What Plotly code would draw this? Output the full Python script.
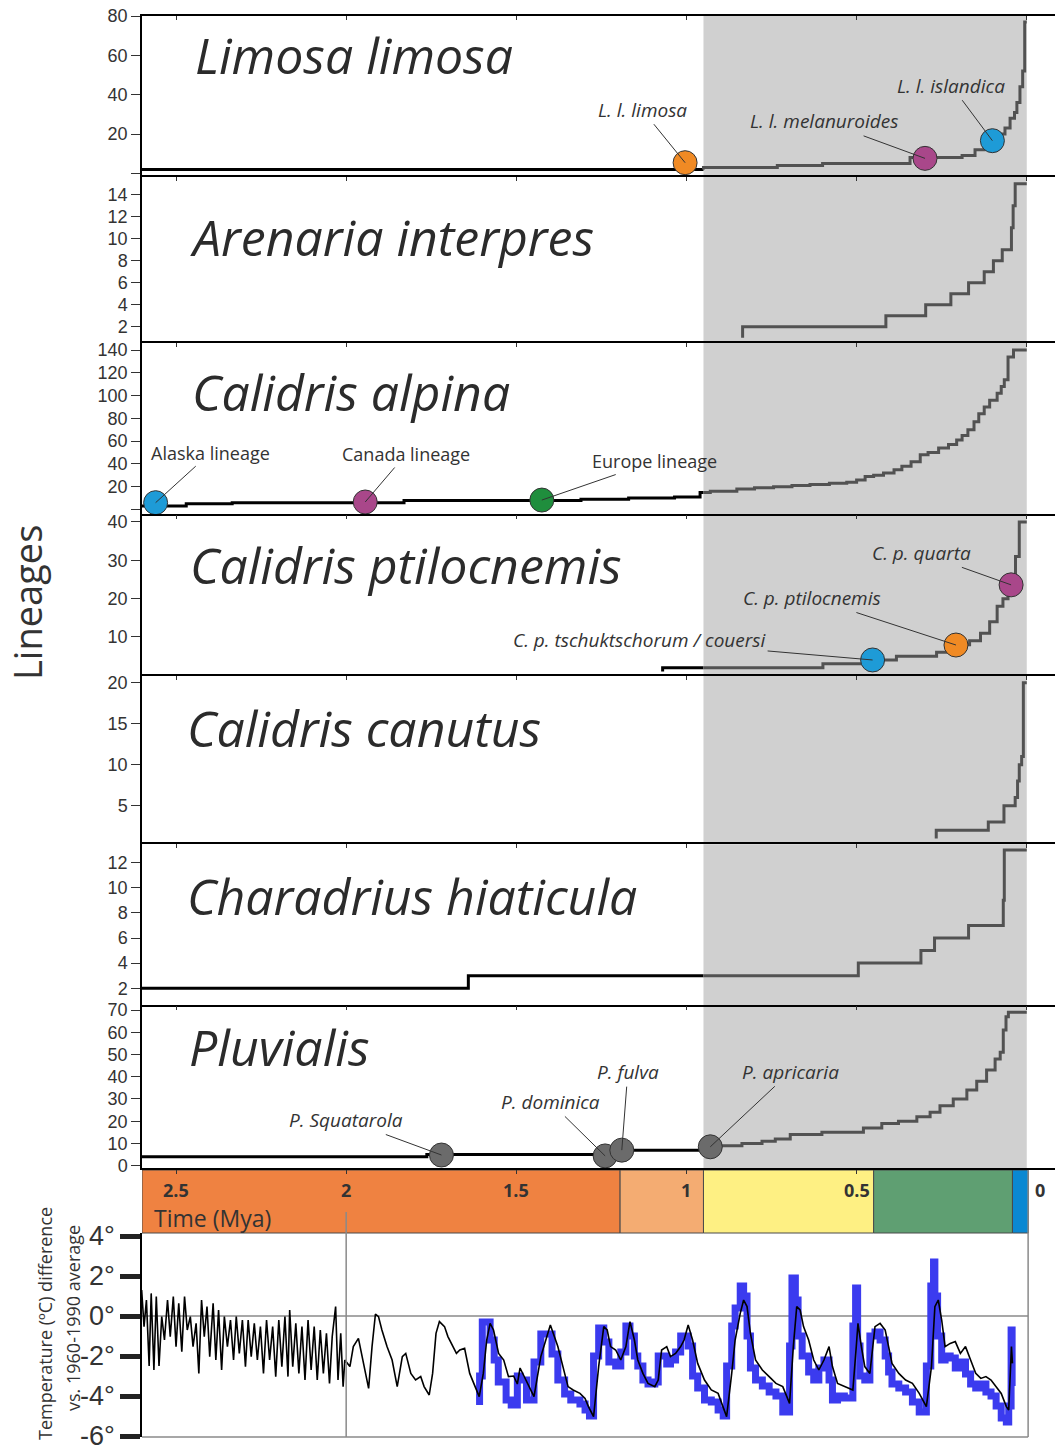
import plotly.graph_objects as go

W, H = 1055, 1445

# ---------------- lineage-through-time curves ----------------
# times (Mya before present) at which the lineage count changes, and the count from then on
limosa_t = [2.6, 0.95, 0.733, 0.60, 0.343, 0.19, 0.152, 0.125, 0.10, 0.08, 0.064, 0.049, 0.036, 0.029, 0.02, 0.012, 0.006, 0.0]
limosa_n = [2, 3, 4, 5, 8, 9, 12, 14, 17, 20, 23, 28, 31, 36, 44, 52, 77, 77]

arenaria_t = [0.835, 0.835, 0.414, 0.297, 0.223, 0.171, 0.125, 0.098, 0.072, 0.045, 0.040, 0.034, 0.0]
arenaria_n = [1, 2, 3, 4, 5, 6, 7, 8, 9, 11, 13, 15, 15]

alpina_t = [2.6, 2.47, 2.335, 1.83, 1.31, 1.17, 1.035, 0.96, 0.93, 0.852, 0.80, 0.744, 0.69, 0.637, 0.58,
            0.529, 0.50, 0.475, 0.45, 0.421, 0.39, 0.367, 0.34, 0.313, 0.29, 0.259, 0.23, 0.206, 0.19,
            0.173, 0.155, 0.141, 0.125, 0.109, 0.087, 0.075, 0.066, 0.055, 0.039, 0.0]
alpina_n = [3, 5, 6, 8, 9, 10, 11, 15, 16, 18, 19, 20, 21, 22, 23,
            24, 26, 29, 30, 32, 35, 38, 42, 48, 50, 54, 57, 61, 65,
            70, 77, 84, 90, 96, 102, 108, 114, 134, 140, 140]

ptilo_t = [1.07, 1.07, 0.599, 0.46, 0.383, 0.265, 0.22, 0.168, 0.136, 0.109, 0.087, 0.07, 0.055, 0.033, 0.022, 0.0]
ptilo_n = [1, 2, 3, 4, 5, 6, 8, 9, 11, 14, 18, 20, 23, 31, 40, 40]

canutus_t = [0.266, 0.266, 0.113, 0.067, 0.034, 0.027, 0.022, 0.015, 0.01, 0.0]
canutus_n = [1, 2, 3, 5, 6, 8, 10, 11, 20, 20]

hiaticula_t = [2.6, 1.641, 0.495, 0.311, 0.271, 0.171, 0.069, 0.066, 0.0]
hiaticula_n = [2, 3, 4, 5, 6, 7, 9, 13, 13]

pluvialis_t = [2.6, 1.763, 1.19, 0.93, 0.837, 0.778, 0.739, 0.695, 0.602, 0.48, 0.426, 0.377, 0.323, 0.284,
               0.255, 0.216, 0.176, 0.147, 0.118, 0.093, 0.078, 0.069, 0.061, 0.054, 0.0]
pluvialis_n = [4, 5, 7, 9, 10, 11, 12, 14, 15, 17, 19, 20, 22, 24, 27, 30, 34, 38, 43, 48, 51, 61, 67, 69, 69]

# ---------------- highlighted lineages (time, lineages) ----------------
limosa_dot_t = [1.004, 0.299, 0.101]
limosa_dot_n = [5.4, 7.6, 16.6]
limosa_dot_lab = ["L. l. limosa", "L. l. melanuroides", "L. l. islandica"]

alpina_dot_t = [2.56, 1.944, 1.425]
alpina_dot_n = [6.0, 6.6, 8.3]
alpina_dot_lab = ["Alaska lineage", "Canada lineage", "Europe lineage"]

ptilo_dot_t = [0.453, 0.208, 0.046]
ptilo_dot_n = [4.0, 7.9, 23.6]
ptilo_dot_lab = ["C. p. tschuktschorum / couersi", "C. p. ptilocnemis", "C. p. quarta"]

pluv_dot_t = [1.72, 1.239, 1.19, 0.93]
pluv_dot_n = [4.8, 4.4, 7.0, 8.5]
pluv_dot_lab = ["P. Squatarola", "P. dominica", "P. fulva", "P. apricaria"]

# ---------------- time scale bar ----------------
period_edges = [2.6, 1.195, 0.95, 0.45, 0.042, -0.005]
period_colors = ["#ef8241", "#f4ac72", "#fef083", "#5f9f72", "#0a88d2"]
time_ticks = [2.5, 2, 1.5, 1, 0.5]
time_tick_text = ["2.5", "2", "1.5", "1", "0.5"]

# ---------------- temperature record (Mya, degC vs 1960-1990) ----------------
temp_t = [2.601, 2.594, 2.587, 2.579, 2.573, 2.565, 2.558, 2.550, 2.542, 2.534, 2.525, 2.517, 2.508, 2.500,
          2.492, 2.483, 2.475, 2.467, 2.458, 2.450, 2.441, 2.433, 2.425, 2.417, 2.409, 2.401, 2.391, 2.383,
          2.375, 2.366, 2.358, 2.349, 2.340, 2.331, 2.323, 2.314, 2.305, 2.296, 2.288, 2.279, 2.270, 2.261,
          2.252, 2.243, 2.234, 2.225, 2.216, 2.207, 2.198, 2.189, 2.180, 2.171, 2.166, 2.157, 2.148, 2.139,
          2.130, 2.121, 2.112, 2.103, 2.094, 2.085, 2.076, 2.067, 2.058, 2.049, 2.041, 2.031, 2.024, 2.016,
          2.009, 2.004, 1.989, 1.979, 1.964, 1.949, 1.934, 1.924, 1.914, 1.905, 1.895, 1.880, 1.865, 1.850,
          1.835, 1.825, 1.810, 1.796, 1.781, 1.771, 1.756, 1.746, 1.736, 1.726, 1.711, 1.701, 1.686, 1.676,
          1.666, 1.652, 1.637, 1.622, 1.609, 1.597, 1.587, 1.577, 1.567, 1.552, 1.537, 1.523, 1.508, 1.497,
          1.489, 1.448, 1.428, 1.400, 1.378, 1.358, 1.348, 1.333, 1.313, 1.298, 1.288, 1.273, 1.258, 1.243,
          1.233, 1.223, 1.208, 1.193, 1.178, 1.166, 1.153, 1.143, 1.128, 1.113, 1.093, 1.083, 1.073, 1.058,
          1.047, 1.032, 1.017, 1.007, 0.995, 0.982, 0.967, 0.947, 0.927, 0.907, 0.892, 0.882, 0.867, 0.857,
          0.842, 0.832, 0.822, 0.812, 0.797, 0.777, 0.757, 0.737, 0.717, 0.697, 0.686, 0.676, 0.666, 0.656,
          0.641, 0.626, 0.611, 0.596, 0.581, 0.571, 0.556, 0.536, 0.511, 0.501, 0.496, 0.486, 0.476, 0.461,
          0.446, 0.431, 0.416, 0.406, 0.396, 0.376, 0.356, 0.336, 0.316, 0.295, 0.280, 0.270, 0.260, 0.250,
          0.240, 0.225, 0.210, 0.195, 0.180, 0.165, 0.150, 0.135, 0.120, 0.105, 0.090, 0.075, 0.060, 0.053,
          0.045, 0.042]
temp_c = [1.3, -0.53, 0.8, -2.5, 1.13, -2.7, 0.97, -2.5, -0.03, -1.2, 0.8, -1.03, 0.97, -1.53,
          0.63, -1.78, 0.97, -0.7, -0.03, -1.53, -0.37, -2.87, 0.8, -1.03, 0.47, -2.03, 0.63, -2.2,
          0.3, -2.7, -0.03, -1.53, -0.2, -2.2, -0.03, -1.87, -0.2, -2.53, -0.2, -2.03, -0.37, -2.2,
          -0.53, -2.87, -0.2, -2.2, -0.53, -3.03, -0.2, -2.53, -0.03, -3.03, 0.3, -2.53, -0.37, -2.87,
          -0.53, -3.2, -0.2, -2.7, -0.53, -3.2, -0.7, -2.87, -0.87, -3.37, -1.03, 0.47, -3.2, -0.87,
          -3.53, -2.2, -2.53, -1.53, -1.12, -2.37, -3.62, -1.53, 0.1, -0.03, -0.7, -1.53, -2.2, -3.53,
          -2.03, -1.87, -2.87, -3.2, -3.03, -3.53, -3.95, -2.87, -0.87, -0.28, -0.53, -1.03, -1.53, -1.87,
          -1.7, -1.62, -2.87, -3.53, -4.03, -2.87, -1.2, -0.37, -0.7, -1.87, -2.2, -3.03, -3.0, -3.4,
          -2.6, -4.03, -2.03, -0.45, -1.53, -2.87, -3.53, -3.70, -3.87, -4.12, -4.53, -5.03, -2.53, -0.53,
          -0.70, -1.53, -1.70, -2.20, -1.53, -0.28, -1.20, -2.20, -2.87, -3.37, -3.53, -3.20, -1.70, -1.53,
          -2.03, -1.87, -1.53, -1.20, -0.45, -1.20, -2.37, -3.20, -3.70, -3.87, -4.53, -5.03, -2.87, -1.20,
          0.13, 0.80, 0.47, -0.87, -2.20, -2.70, -3.03, -3.37, -3.53, -4.37, -1.53, 0.47, 0.30, -0.53,
          -1.20, -2.20, -2.70, -2.20, -1.53, -2.53, -3.37, -3.53, -3.70, -1.53, -0.37, -1.53, -2.53, -2.87,
          -0.53, -0.37, -0.70, -1.53, -2.37, -2.87, -3.20, -3.37, -3.87, -4.53, -2.53, 0.47, 0.80, -0.20,
          -1.53, -1.37, -1.28, -1.87, -1.53, -2.20, -2.87, -3.12, -3.03, -3.20, -3.53, -3.87, -4.53, -4.70,
          -1.53, -2.37]

blue_t = [1.608, 1.60, 1.577, 1.565, 1.553, 1.53, 1.515, 1.497, 1.489, 1.470, 1.448, 1.428, 1.405, 1.395,
          1.378, 1.358, 1.340, 1.313, 1.298, 1.285, 1.273, 1.258, 1.243, 1.228, 1.208, 1.193, 1.178, 1.166,
          1.153, 1.143, 1.128, 1.113, 1.093, 1.083, 1.073, 1.058, 1.047, 1.032, 1.017, 0.995, 0.982, 0.967,
          0.947, 0.927, 0.907, 0.892, 0.882, 0.867, 0.857, 0.842, 0.832, 0.822, 0.812, 0.797, 0.777, 0.757,
          0.737, 0.717, 0.697, 0.690, 0.680, 0.672, 0.660, 0.641, 0.626, 0.611, 0.596, 0.581, 0.571, 0.556,
          0.536, 0.511, 0.503, 0.497, 0.490, 0.476, 0.461, 0.446, 0.431, 0.416, 0.406, 0.396, 0.376, 0.356,
          0.336, 0.316, 0.295, 0.282, 0.274, 0.270, 0.262, 0.250, 0.240, 0.225, 0.210, 0.195, 0.180, 0.165,
          0.150, 0.135, 0.120, 0.105, 0.090, 0.075, 0.060, 0.053, 0.046, 0.043, 0.042]
blue_c = [-4.45, -3.0, -0.3, -1.2, -2.2, -3.3, -4.2, -4.45, -3.0, -3.2, -4.2, -2.3, -0.9, -0.9,
          -1.9, -3.2, -3.9, -4.2, -4.4, -4.7, -5.0, -2.0, -0.6, -1.3, -2.3, -2.5, -1.8, -0.5,
          -1.0, -2.0, -2.5, -3.2, -3.4, -3.3, -2.0, -2.0, -2.4, -2.2, -1.8, -1.0, -1.5, -3.0,
          -3.6, -4.2, -4.3, -4.7, -5.0, -2.5, -0.5, 0.4, 1.5, 1.0, -1.0, -2.6, -3.2, -3.5,
          -3.8, -4.0, -4.8, -1.5, 1.9, 0.8, -1.0, -2.0, -2.8, -3.2, -2.6, -2.2, -3.2, -4.2,
          -4.0, -4.1, -0.5, 1.4, -1.5, -3.0, -3.2, -1.0, -0.8, -1.2, -2.0, -2.8, -3.4, -3.6,
          -3.8, -4.3, -4.8, -2.5, 1.5, 2.7, 1.0, -1.0, -2.2, -2.0, -2.1, -2.6, -2.3, -2.9,
          -3.4, -3.6, -3.4, -3.8, -4.0, -4.5, -5.1, -5.3, -4.5, -0.7, -3.5]

temp_ticks = [4, 2, 0, -2, -4, -6]
temp_tick_text = ["4°", "2°", "0°", "-2°", "-4°", "-6°"]

# ---------------- figure layout helpers ----------------
X_RANGE = [2.6, -0.083]
X_DOM = [142 / W, 1.0]
GLACIAL_START = 0.95
TXT = "#2b2b2b"


def ydom(top_px, bottom_px):
    return [1 - bottom_px / H, 1 - top_px / H]


def split_at(t, n, cut):
    """Split a descending step series into the part older and younger than `cut`."""
    k = len([a for a in t if a > cut])
    old_t, old_n = list(t[:k]), list(n[:k])
    young_t, young_n = list(t[k:]), list(n[k:])
    if old_t:
        old_t.append(cut)
        old_n.append(old_n[-1])
        young_t.insert(0, cut)
        young_n.insert(0, old_n[-1])
    return old_t, old_n, young_t, young_n


panels = [
    dict(title="Limosa limosa", t=limosa_t, n=limosa_n, px=(16, 177), rng=[-1.88, 80.05],
         tv=[0, 20, 40, 60, 80], tt=["", "20", "40", "60", "80"], tpos=(193, 55)),
    dict(title="Arenaria interpres", t=arenaria_t, n=arenaria_n, px=(177, 343), rng=[0.52, 15.61],
         tv=[2, 4, 6, 8, 10, 12, 14], tt=None, tpos=(188, 237)),
    dict(title="Calidris alpina", t=alpina_t, n=alpina_n, px=(343, 515.7), rng=[-5.44, 146.2],
         tv=[0, 20, 40, 60, 80, 100, 120, 140], tt=["", "20", "40", "60", "80", "100", "120", "140"],
         tpos=(190, 392)),
    dict(title="Calidris ptilocnemis", t=ptilo_t, n=ptilo_n, px=(515.7, 676), rng=[-0.18, 41.64],
         tv=[10, 20, 30, 40], tt=None, tpos=(188, 565)),
    dict(title="Calidris canutus", t=canutus_t, n=canutus_n, px=(676, 844.3), rng=[0.29, 20.82],
         tv=[5, 10, 15, 20], tt=None, tpos=(185, 728)),
    dict(title="Charadrius hiaticula", t=hiaticula_t, n=hiaticula_n, px=(844.3, 1006.7), rng=[0.53, 13.46],
         tv=[2, 4, 6, 8, 10, 12], tt=None, tpos=(185, 896)),
    dict(title="Pluvialis", t=pluvialis_t, n=pluvialis_n, px=(1006.7, 1170), rng=[-1.93, 71.49],
         tv=[0, 10, 20, 30, 40, 50, 60, 70], tt=None, tpos=(187, 1047)),
]

# dot groups: panel index, times, counts, colors, labels, label offsets (px from dot), italic?
dot_groups = [
    (0, limosa_dot_t, limosa_dot_n, ["#f08a24", "#a9478a", "#1e9bd7"], limosa_dot_lab,
     [(-43, -53), (-101, -37), (-41, -55)], True),
    (2, alpina_dot_t, alpina_dot_n, ["#1e9bd7", "#a9478a", "#1f8e3d"], alpina_dot_lab,
     [(55, -50), (41, -48), (113, -39)], False),
    (3, ptilo_dot_t, ptilo_dot_n, ["#1e9bd7", "#f08a24", "#a9478a"], ptilo_dot_lab,
     [(-233, -20), (-144, -47), (-90, -32)], True),
    (6, pluv_dot_t, pluv_dot_n, ["#6b6b6b"] * 4, pluv_dot_lab,
     [(-95, -35), (-55, -54), (6, -78), (80, -75)], True),
]

fig = go.Figure()
layout = dict(width=W, height=H, margin=dict(l=0, r=0, t=0, b=0, autoexpand=False), showlegend=False,
              paper_bgcolor="white", plot_bgcolor="rgba(0,0,0,0)")
shapes, annotations = [], []


def suf(i):
    return "" if i == 1 else str(i)


for i, p in enumerate(panels, start=1):
    s = suf(i)
    layout["xaxis" + s] = dict(domain=X_DOM, range=X_RANGE, anchor="y" + s, side="top", showline=True,
                               linecolor="black", linewidth=1.5, ticks="inside", ticklen=4, tickwidth=1,
                               tickcolor="#333", tickvals=[2.5, 2, 1.5, 1, 0.5, 0], showticklabels=False,
                               showgrid=False, zeroline=False, fixedrange=True, automargin=False)
    yax = dict(domain=ydom(*p["px"]), range=p["rng"], anchor="x" + s, showline=True, linecolor="black",
               linewidth=1.5, ticks="outside", ticklen=9, tickwidth=1, tickcolor="#333",
               tickvals=p["tv"], tickfont=dict(family="Liberation Sans, Arial", size=18, color="#333"),
               showgrid=False, zeroline=False, fixedrange=True, automargin=False, ticklabeloverflow="allow")
    if p["tt"]:
        yax["ticktext"] = p["tt"]
    layout["yaxis" + s] = yax

    shapes.append(dict(type="rect", xref="x" + s, yref="y" + s + " domain", x0=GLACIAL_START, x1=0.0,
                       y0=0, y1=1, fillcolor="#d0d0d0", line=dict(width=0), layer="below"))

    ot, on, yt, yn = split_at(p["t"], p["n"], GLACIAL_START)
    if ot:
        fig.add_trace(go.Scatter(x=ot, y=on, mode="lines", line=dict(color="black", width=3, shape="hv"),
                                 xaxis="x" + s, yaxis="y" + s, hoverinfo="skip"))
    fig.add_trace(go.Scatter(x=yt, y=yn, mode="lines", line=dict(color="#525252", width=3, shape="hv"),
                             xaxis="x" + s, yaxis="y" + s, hoverinfo="skip"))

    tx, ty = p["tpos"]
    annotations.append(dict(text="<i>" + p["title"] + "</i>", xref="paper", yref="paper", x=tx / W,
                            y=1 - ty / H, xanchor="left", yanchor="middle", showarrow=False,
                            font=dict(family="Open Sans", size=50, color=TXT)))

for pi, dt, dn, cols, labs, offs, ital in dot_groups:
    s = suf(pi + 1)
    fig.add_trace(go.Scatter(x=dt, y=dn, mode="markers", xaxis="x" + s, yaxis="y" + s, hoverinfo="skip",
                             marker=dict(size=24, color=cols, line=dict(color="#333", width=1))))
    for xv, yv, lab, (ax, ay) in zip(dt, dn, labs, offs):
        annotations.append(dict(text=("<i>%s</i>" % lab) if ital else lab, x=xv, y=yv, xref="x" + s,
                                yref="y" + s, showarrow=True, arrowhead=0, arrowwidth=1, arrowcolor="#333",
                                ax=ax, ay=ay, standoff=0,
                                font=dict(family="Open Sans", size=19 if ital else 18, color="#333")))

# ---- time scale bar (axis 8) ----
layout["xaxis8"] = dict(domain=X_DOM, range=X_RANGE, anchor="y8", side="top", showline=True, linecolor="black",
                        linewidth=1.5, ticks="inside", ticklen=4, tickcolor="#333", tickvals=time_ticks,
                        showticklabels=False, showgrid=False, zeroline=False, fixedrange=True, automargin=False)
layout["yaxis8"] = dict(domain=ydom(1170, 1233), range=[0, 1], anchor="x8", visible=False, fixedrange=True,
                        automargin=False)
for a, b, c in zip(period_edges[:-1], period_edges[1:], period_colors):
    shapes.append(dict(type="rect", xref="x8", yref="y8 domain", x0=a, x1=b, y0=0, y1=1, fillcolor=c,
                       line=dict(color="#4a4a4a", width=1), layer="below"))
for tv, tt in zip(time_ticks, time_tick_text):
    annotations.append(dict(text="<b>%s</b>" % tt, x=tv, y=0.68, xref="x8", yref="y8 domain", showarrow=False,
                            xanchor="center", yanchor="middle",
                            font=dict(family="Open Sans", size=18, color="#333")))
annotations.append(dict(text="<b>0</b>", x=-0.04, y=0.68, xref="x8", yref="y8 domain", showarrow=False,
                        xanchor="center", yanchor="middle",
                        font=dict(family="Open Sans", size=18, color="#333")))
annotations.append(dict(text="Time (Mya)", x=152 / W, y=1 - 1218 / H, xref="paper", yref="paper",
                        xanchor="left", yanchor="middle", showarrow=False,
                        font=dict(family="Open Sans", size=23, color="#333")))

# ---- temperature panel (axis 9) ----
layout["xaxis9"] = dict(domain=X_DOM, range=X_RANGE, anchor="y9", visible=False, fixedrange=True,
                        automargin=False)
layout["yaxis9"] = dict(domain=ydom(1233, 1437), range=[-6.05, 4.15], anchor="x9", showline=True,
                        linecolor="black", linewidth=1.5, ticks="outside", ticklen=20, tickwidth=5,
                        tickcolor="#222", tickvals=temp_ticks, ticktext=temp_tick_text,
                        tickfont=dict(family="Liberation Sans, Arial", size=27, color="#333"),
                        showgrid=False, zeroline=False, fixedrange=True, automargin=False,
                        ticklabeloverflow="allow")
T_END = -0.004
shapes += [
    dict(type="line", xref="x9", yref="y9", x0=X_RANGE[0], x1=T_END, y0=0, y1=0,
         line=dict(color="#8a8a8a", width=1.5), layer="below"),
    dict(type="line", xref="x9", yref="y9 domain", x0=X_RANGE[0], x1=T_END, y0=0, y1=0,
         line=dict(color="#8a8a8a", width=1.5)),
    dict(type="line", xref="x9", yref="paper", x0=T_END, x1=T_END, y0=1 - 1437 / H, y1=1 - 1170 / H,
         line=dict(color="#8a8a8a", width=1.5)),
    dict(type="line", xref="x9", yref="paper", x0=2.0, x1=2.0, y0=1 - 1437 / H, y1=1 - 1212 / H,
         line=dict(color="#8a8a8a", width=1.5)),
]
fig.add_trace(go.Scatter(x=blue_t, y=blue_c, mode="lines", xaxis="x9", yaxis="y9", hoverinfo="skip",
                         line=dict(color="#3b3bef", width=7, shape="vh")))
fig.add_trace(go.Scatter(x=temp_t, y=temp_c, mode="lines", xaxis="x9", yaxis="y9", hoverinfo="skip",
                         line=dict(color="black", width=1.6)))

# ---- axis titles ----
annotations.append(dict(text="Lineages", x=27 / W, y=1 - 603 / H, xref="paper", yref="paper", textangle=-90,
                        xanchor="center", yanchor="middle", showarrow=False,
                        font=dict(family="Open Sans", size=38, color="#333")))
annotations.append(dict(text="Temperature (ºC) difference", x=45 / W, y=1 - 1324 / H, xref="paper",
                        yref="paper", textangle=-90, xanchor="center", yanchor="middle", showarrow=False,
                        font=dict(family="Open Sans", size=18, color="#333")))
annotations.append(dict(text="vs. 1960-1990 average", x=73 / W, y=1 - 1318 / H, xref="paper",
                        yref="paper", textangle=-90, xanchor="center", yanchor="middle", showarrow=False,
                        font=dict(family="Open Sans", size=18, color="#333")))

layout["shapes"] = shapes
layout["annotations"] = annotations
fig.update_layout(**layout)
fig.write_html("out.html")
